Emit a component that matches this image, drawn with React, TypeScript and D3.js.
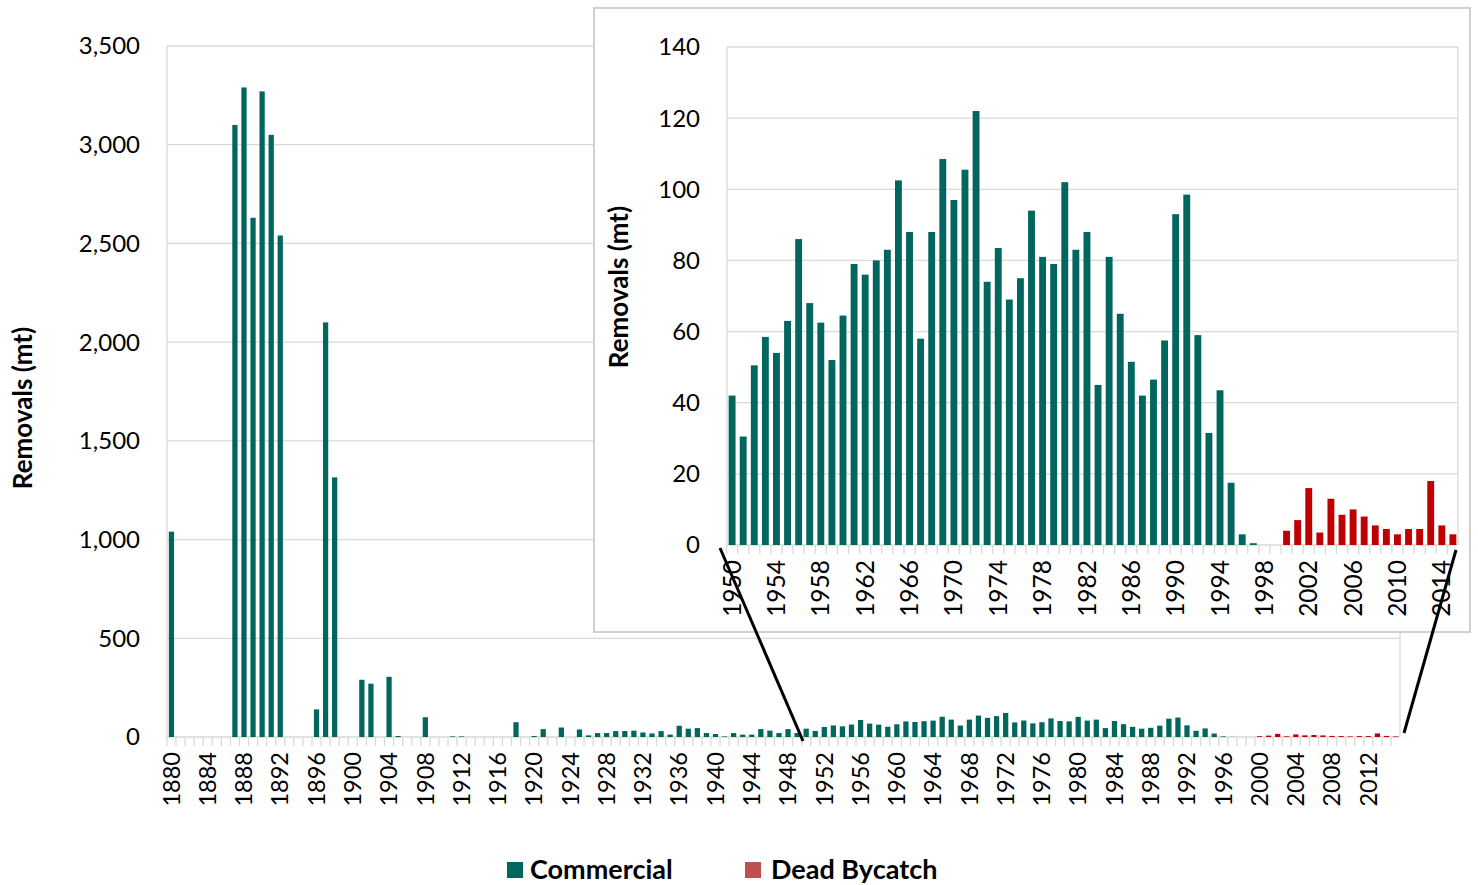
import React from "react";
import * as d3 from "d3";

const earlyYears = [1880,1887,1888,1889,1890,1891,1892,1896,1897,1898,1901,1902,1904,1905,1908,1911,1912,1918,1920,1921,1923,1925,1926,1927,1928,1929,1930,1931,1932,1933,1934,1935,1936,1937,1938,1939,1940,1941,1942,1943,1944,1945,1946,1947,1948,1949];
const earlyValues = [1040,3100,3290,2630,3270,3050,2540,140,2100,1315,290,270,305,5,100,3,3,75,5,40,48,38,8,20,20,30,30,32,23,18,30,12,57,42,45,20,15,3,20,12,12,40,32,20,40,20];
const commercialLate = [42,30.5,50.5,58.5,54,63,86,68,62.5,52,64.5,79,76,80,83,102.5,88,58,88,108.5,97,105.5,122,74,83.5,69,75,94,81,79,102,83,88,45,81,65,51.5,42,46.5,57.5,93,98.5,59,31.5,43.5,17.5,3,0.5,0,0];
const bycatchLate = [4,7,16,3.5,13,8.5,10,8,5.5,4.5,3,4.5,4.5,18,5.5,3];
const mainTicks = [0,500,1000,1500,2000,2500,3000,3500];
const insetTicks = [0,20,40,60,80,100,120,140];

type D = { year: number; value: number; kind: "c" | "b" };
const allYears = d3.range(1880, 2016);
const data: D[] = allYears.map((y) => {
  const i = earlyYears.indexOf(y);
  if (y < 1950) return { year: y, value: i >= 0 ? earlyValues[i] : 0, kind: "c" };
  if (y < 2000) return { year: y, value: commercialLate[y - 1950], kind: "c" };
  return { year: y, value: bycatchLate[y - 2000], kind: "b" };
});
const insetData = data.filter((d) => d.year >= 1950);

const TEAL = "#00665e";
const RED = "#c00000";
const FONT = "Lato, 'Liberation Sans', sans-serif";

export default function App() {
  const W = 1478, H = 885;
  const mx = d3.scaleBand<number>().domain(allYears).range([167, 1400]).paddingInner(0.42).paddingOuter(0.2);
  const my = d3.scaleLinear().domain([0, 3500]).range([737, 46]);
  const ix = d3.scaleBand<number>().domain(insetData.map((d) => d.year)).range([727, 1458]).paddingInner(0.38).paddingOuter(0.15);
  const iy = d3.scaleLinear().domain([0, 140]).range([545, 47]);
  const step = mx.step();
  const istep = ix.step();
  const col = (d: D) => (d.kind === "c" ? TEAL : RED);
  return (
    <svg width={W} height={H} style={{ position: "absolute", left: 0, top: 0, fontFamily: FONT }}>
      <rect width={W} height={H} fill="#fff" />
      {mainTicks.map((t) => (
        <g key={t}>
          <line x1={167} x2={1400} y1={my(t)} y2={my(t)} stroke="#d9d9d9" strokeWidth={1.3} />
          <text x={140} y={my(t)} dy="0.35em" textAnchor="end" fontSize={24}>{d3.format(",")(t)}</text>
        </g>
      ))}
      <line x1={167} x2={167} y1={46} y2={737} stroke="#d9d9d9" strokeWidth={1.3} />
      <line x1={1400} x2={1400} y1={46} y2={737} stroke="#d9d9d9" strokeWidth={1.3} />
      {allYears.map((y) => (
        <line key={y} x1={mx(y)! - (step * 0.42) / 2} x2={mx(y)! - (step * 0.42) / 2} y1={737} y2={746} stroke="#d9d9d9" strokeWidth={1.3} />
      ))}
      {data.map((d) => (
        <rect key={d.year} x={mx(d.year)} width={mx.bandwidth()} y={my(d.value)} height={737 - my(d.value)} fill={col(d)} />
      ))}
      {allYears.filter((y) => (y - 1880) % 4 === 0).map((y) => (
        <text key={y} transform={`translate(${mx(y)! + mx.bandwidth() / 2},752) rotate(-90)`} dy="0.35em" textAnchor="end" fontSize={23.5}>{y}</text>
      ))}
      <text transform="translate(32,408) rotate(-90)" textAnchor="middle" fontSize={26} fontWeight="bold">Removals (mt)</text>

      {/* inset */}
      <rect x={594} y={8} width={876} height={624} fill="#fff" stroke="#d0d0d0" strokeWidth={2} />
      {insetTicks.map((t) => (
        <g key={t}>
          <line x1={727} x2={1458} y1={iy(t)} y2={iy(t)} stroke="#d9d9d9" strokeWidth={1.3} />
          <text x={700} y={iy(t)} dy="0.35em" textAnchor="end" fontSize={24}>{t}</text>
        </g>
      ))}
      <line x1={727} x2={727} y1={47} y2={545} stroke="#d9d9d9" strokeWidth={1.3} />
      <line x1={1458} x2={1458} y1={47} y2={545} stroke="#d9d9d9" strokeWidth={1.3} />
      {insetData.map((d) => (
        <line key={d.year} x1={ix(d.year)! - (istep * 0.38) / 2} x2={ix(d.year)! - (istep * 0.38) / 2} y1={545} y2={554} stroke="#d9d9d9" strokeWidth={1.3} />
      ))}
      {insetData.map((d) => (
        <rect key={d.year} x={ix(d.year)} width={ix.bandwidth()} y={iy(d.value)} height={545 - iy(d.value)} fill={col(d)} />
      ))}
      {insetData.filter((d) => (d.year - 1950) % 4 === 0).map((d) => (
        <text key={d.year} transform={`translate(${ix(d.year)! + ix.bandwidth() / 2},560) rotate(-90)`} dy="0.35em" textAnchor="end" fontSize={24.5}>{d.year}</text>
      ))}
      <text transform="translate(628,287) rotate(-90)" textAnchor="middle" fontSize={26} fontWeight="bold">Removals (mt)</text>

      <line x1={720} x2={803} y1={548} y2={741} stroke="#000" strokeWidth={3} />
      <line x1={1456} x2={1404} y1={550} y2={733} stroke="#000" strokeWidth={3} />

      {/* legend */}
      <rect x={507} y={862} width={16} height={16} fill={TEAL} />
      <text x={530} y={870} dy="0.35em" fontSize={27} fontWeight="bold">Commercial</text>
      <rect x={745} y={862} width={16} height={16} fill="#c0504d" />
      <text x={771} y={870} dy="0.35em" fontSize={27} fontWeight="bold">Dead Bycatch</text>
    </svg>
  );
}
